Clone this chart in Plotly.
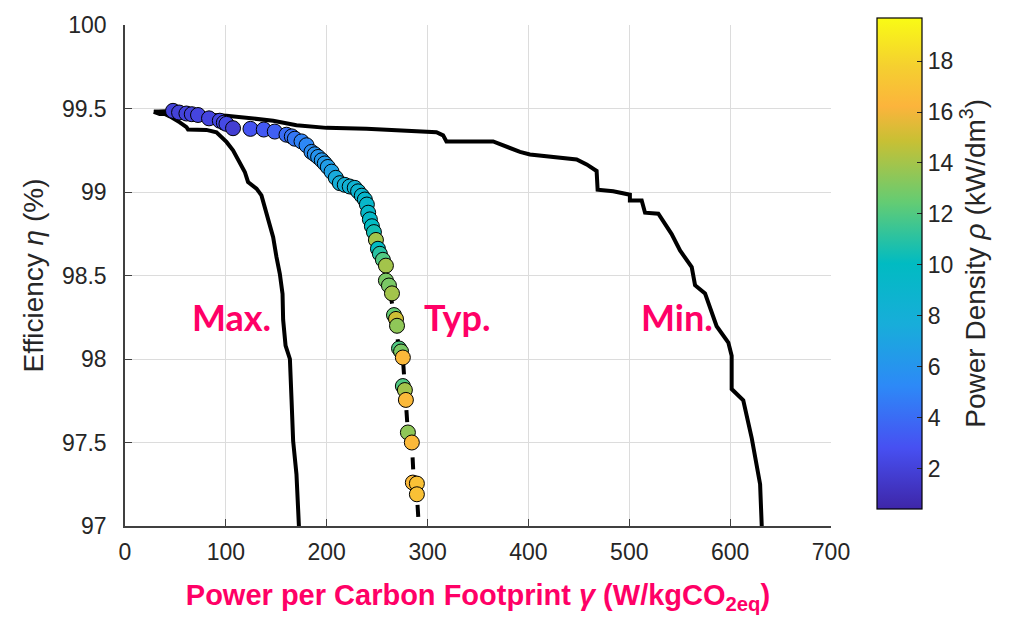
import plotly.graph_objects as go

# ---------------- data ----------------
max_x = [28.6, 34.4, 39.4, 44.4, 54.3, 61.0, 62.5, 80.7, 90.7, 100.6, 107.1, 113.8, 118.8, 122.0,
         130.4, 135.3, 138.6, 141.9, 146.9, 150.2, 153.5, 156.2, 156.8, 159.2, 163.5, 165.1,
         166.7, 170.0, 172.3, 172.6]
max_y = [99.48, 99.467, 99.467, 99.453, 99.417, 99.388, 99.374, 99.372, 99.358, 99.30, 99.25,
         99.18, 99.12, 99.06, 99.02, 98.98, 98.905, 98.826, 98.73, 98.61, 98.51, 98.39, 98.235,
         98.08, 98.0, 97.76, 97.51, 97.31, 97.01, 96.98]

min_x = [28.6, 60.0, 100.6, 146.9, 170.0, 199.8, 239.4, 308.8, 315.4, 318.7, 365.0, 391.6, 401.5,
         447.8, 457.7, 467.6, 468.6, 484.1, 500.6, 500.6, 512.3, 515.6, 528.8, 542.0, 550.3,
         561.9, 565.2, 575.1, 586.6, 598.2, 601.5, 601.5, 613.0, 621.4, 629.7, 631.4, 631.5]
min_y = [99.48, 99.47, 99.457, 99.427, 99.40, 99.384, 99.378, 99.358, 99.339, 99.303, 99.303,
         99.24, 99.225, 99.195, 99.165, 99.126, 99.014, 99.004, 98.984, 98.949, 98.949, 98.876,
         98.87, 98.748, 98.65, 98.55, 98.442, 98.393, 98.196, 98.098, 98.019, 97.82, 97.753,
         97.526, 97.25, 96.99, 96.97]

typ_x = [28.6, 47.6, 60.9, 72.4, 94.0, 107.1, 124.4, 148.5, 168.4, 184.9, 198.1, 213.0, 227.8,
         237.8, 242.8, 248.8, 255.7, 261.7, 266.7, 271.7, 275.5, 277.5, 280.5, 284.4, 286.4,
         289.4, 291.5]
typ_y = [99.48, 99.486, 99.470, 99.461, 99.427, 99.382, 99.378, 99.362, 99.319, 99.24, 99.171,
         99.053, 99.025, 98.955, 98.836, 98.713, 98.594, 98.44, 98.263, 98.063, 98.009, 97.814,
         97.56, 97.50, 97.26, 97.19, 96.98]

pts_x = [47.6, 53.6, 60.9, 66.2, 72.4, 83.3, 94.0, 98.0, 100.6, 107.1, 124.4, 137.6, 148.5, 160.1,
         165.4, 168.4, 175.0, 180.0, 184.9, 188.2, 191.5, 195.1, 198.1, 201.1, 204.8, 209.0,
         213.0, 217.9, 222.8, 227.8, 231.1, 234.8, 237.8, 239.8, 241.1, 242.8, 244.8, 246.8,
         248.8, 250.8, 252.7, 255.7, 258.7, 258.7, 261.7, 264.7, 266.7, 268.7, 269.7, 271.7,
         273.7, 275.5, 275.5, 277.5, 278.5, 280.5, 284.4, 285.4, 289.4, 289.4]
pts_y = [99.486, 99.476, 99.470, 99.466, 99.461, 99.441, 99.427, 99.415, 99.408, 99.382, 99.378,
         99.374, 99.362, 99.343, 99.333, 99.319, 99.303, 99.280, 99.24, 99.226, 99.21, 99.19,
         99.171, 99.15, 99.122, 99.085, 99.053, 99.043, 99.033, 99.025, 99.004, 98.978, 98.955,
         98.925, 98.876, 98.836, 98.795, 98.76, 98.713, 98.66, 98.63, 98.594, 98.559, 98.47,
         98.44, 98.393, 98.263, 98.24, 98.199, 98.063, 98.045, 98.009, 97.838, 97.814, 97.755,
         97.56, 97.50, 97.26, 97.254, 97.19]
pts_rho = [2.0, 2.0, 2.1, 2.1, 2.2, 2.2, 2.3, 2.3, 2.4, 1.8, 3.0, 3.2, 3.5, 4.0,
           4.3, 4.5, 5.0, 5.2, 5.5, 5.8, 6.0, 6.2, 6.4, 6.6, 6.8, 7.5,
           8.0, 8.2, 8.4, 8.6, 8.8, 9.0, 9.2, 9.3, 9.5, 9.6, 10.0, 10.5,
           14.0, 10.0, 11.0, 12.0, 14.0, 13.0, 13.0, 14.0, 12.5, 15.0, 13.5, 12.0,
           13.0, 16.5, 12.0, 14.0, 16.5, 13.5, 16.5, 16.5, 17.0, 17.0]

x_ticks = [0, 100, 200, 300, 400, 500, 600, 700]
y_ticks = [97, 97.5, 98, 98.5, 99, 99.5, 100]
y_ticklabels = ["97", "97.5", "98", "98.5", "99", "99.5", "100"]
cb_ticks = [2, 4, 6, 8, 10, 12, 14, 16, 18]

labels = ["Max.", "Typ.", "Min."]
label_x = [106, 330, 547]
label_y = [98.25, 98.25, 98.25]

parula = [
    [0.0, 'rgb(62,38,168)'],
    [0.125, 'rgb(71,80,242)'],
    [0.25, 'rgb(45,137,247)'],
    [0.375, 'rgb(24,173,218)'],
    [0.5, 'rgb(1,187,194)'],
    [0.625, 'rgb(100,204,115)'],
    [0.75, 'rgb(200,192,52)'],
    [0.82, 'rgb(252,180,60)'],
    [0.9, 'rgb(245,207,48)'],
    [1.0, 'rgb(249,251,21)'],
]

PINK = 'rgb(255,0,102)'
DARK = '#262626'
FONT = 'Liberation Sans, Arial'

fig = go.Figure()
fig.add_trace(go.Scatter(x=max_x, y=max_y, mode='lines', line=dict(color='black', width=4),
                         showlegend=False, hoverinfo='skip'))
fig.add_trace(go.Scatter(x=min_x, y=min_y, mode='lines', line=dict(color='black', width=4),
                         showlegend=False, hoverinfo='skip'))
fig.add_trace(go.Scatter(x=typ_x, y=typ_y, mode='lines',
                         line=dict(color='black', width=4, dash='dash'),
                         showlegend=False, hoverinfo='skip'))
fig.add_trace(go.Scatter(
    x=pts_x, y=pts_y, mode='markers', showlegend=False,
    marker=dict(size=15, color=pts_rho, colorscale=parula, cmin=0.42, cmax=19.7,
                line=dict(color='black', width=1),
                colorbar=dict(
                    x=1.065, xanchor='left', xpad=0, y=1.0144, yanchor='top', ypad=0,
                    lenmode='pixels', len=491, thickness=45, thicknessmode='pixels',
                    outlinecolor='black', outlinewidth=1.2,
                    tickvals=cb_ticks, ticks='inside', ticklen=5, tickcolor=DARK,
                    tickprefix='\u00a0',
                    tickfont=dict(family=FONT, size=23, color=DARK),
                    title=dict(text='Power Density <i>ρ</i> (kW/dm<sup>3</sup>)', side='right',
                               font=dict(family=FONT, size=28, color=DARK)),
                ))))

for t, lx, ly in zip(labels, label_x, label_y):
    fig.add_annotation(x=lx, y=ly, text=f'<b>{t}</b>', showarrow=False,
                       xanchor='center', yanchor='middle',
                       font=dict(family='Lato, Open Sans', size=36, color=PINK))

fig.update_layout(
    width=1018, height=618,
    margin=dict(l=125, r=187, t=18, b=92),
    plot_bgcolor='white', paper_bgcolor='white',
    xaxis=dict(range=[0, 700], tickvals=x_ticks, showgrid=True, gridcolor='#dcdcdc', gridwidth=1,
               zeroline=False, showline=True, linecolor='#404040', linewidth=1.5,
               ticks='inside', ticklen=7, tickcolor='#404040', mirror=False,
               ticklabelstandoff=5,
               tickfont=dict(family=FONT, size=23, color=DARK),
               title=dict(text='<b>Power per Carbon Footprint <i>γ</i> (W/kgCO<sub>2eq</sub>)</b>',
                          font=dict(family=FONT, size=29, color=PINK),
                          standoff=20)),
    yaxis=dict(range=[97, 100], tickvals=y_ticks, ticktext=y_ticklabels, showgrid=True,
               gridcolor='#dcdcdc', gridwidth=1, zeroline=False, showline=True,
               linecolor='#404040', linewidth=1.5, ticks='inside', ticklen=7, tickcolor='#404040',
               ticklabelstandoff=12,
               tickfont=dict(family=FONT, size=23, color=DARK),
               title=dict(text='Efficiency <i>η</i> (%)',
                          font=dict(family=FONT, size=28, color=DARK),
                          standoff=10)),
)

fig.write_html('out.html')
